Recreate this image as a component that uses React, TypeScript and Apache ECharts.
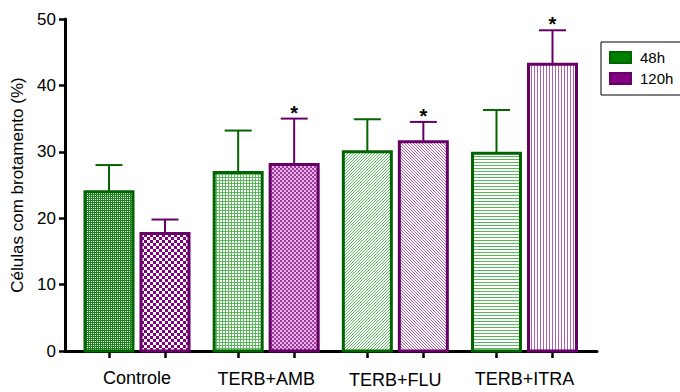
import React, { useEffect, useRef } from "react";
import * as echarts from "echarts";

const categories = ["Controle", "TERB+AMB", "TERB+FLU", "TERB+ITRA"];
const seriesNames = ["48h", "120h"];
const mean48 = [24.0, 26.9, 30.0, 29.8];
const err48 = [4.0, 6.3, 4.9, 6.5];
const sig48 = [0, 0, 0, 0];
const mean120 = [17.7, 28.1, 31.5, 43.2];
const err120 = [2.1, 6.9, 3.0, 5.1];
const sig120 = [0, 1, 1, 1];
const yTicks = [0, 10, 20, 30, 40, 50];

const FONT = '"Liberation Sans", Arial, sans-serif';
const GREEN_LINE = "#006400";
const PURPLE_LINE = "#660066";

function makeTile(rows: string[], colors: Record<string, string>) {
  const h = rows.length;
  const w = rows[0].length;
  const c = document.createElement("canvas");
  c.width = w;
  c.height = h;
  const ctx = c.getContext("2d")!;
  for (let y = 0; y < h; y++) {
    for (let x = 0; x < w; x++) {
      ctx.fillStyle = colors[rows[y][x]];
      ctx.fillRect(x, y, 1, 1);
    }
  }
  return { image: c, repeat: "repeat", imageWidth: w, imageHeight: h } as any;
}

function buildPatterns() {
  const g = "#1a861a";
  const lg = "#5cb85c";
  const p = "#800080";
  const lp = "#b060b0";
  const w = "#ffffff";
  const p48 = [
    makeTile(["gg", "gw"], { g, w }),
    makeTile(["ggg", "g..", "g.."], { g: lg, ".": w }),
    makeTile(["..g", ".g.", "g.."], { g: lg, ".": w }),
    makeTile(["ggg", "...", "..."], { g: lg, ".": w }),
  ];
  const p120 = [
    makeTile(
      ["pppwww", "pppwww", "pppwww", "wwwppp", "wwwppp", "wwwppp"],
      { p, w }
    ),
    makeTile(["ppqq", "ppqq", "qqpp", "qqpp"], { p: "#9a3a9a", q: "#eab4ea" }),
    makeTile(["p..", ".p.", "..p"], { p: lp, ".": w }),
    makeTile(["p..", "p..", "p.."], { p: lp, ".": w }),
  ];
  return [p48, p120];
}

function makeRender(offsetPx: number, patterns: any[], stroke: string) {
  return (params: any, api: any) => {
    const idx = params.dataIndex;
    const gx = api.value(0);
    const v = api.value(1);
    const e = api.value(2);
    const s = api.value(3);
    const base = api.coord([gx, 0]);
    const top = api.coord([gx, v]);
    const et = api.coord([gx, v + e]);
    const cx = base[0] + offsetPx;
    const children: any[] = [
      {
        type: "line",
        shape: { x1: cx, y1: top[1], x2: cx, y2: et[1] },
        style: { stroke, lineWidth: 2 },
      },
      {
        type: "line",
        shape: { x1: cx - 13.5, y1: et[1], x2: cx + 13.5, y2: et[1] },
        style: { stroke, lineWidth: 2 },
      },
      {
        type: "rect",
        shape: { x: cx - 24, y: top[1], width: 48, height: base[1] - top[1] },
        style: { fill: patterns[idx], stroke, lineWidth: 3 },
      },
    ];
    if (s) {
      children.push({
        type: "text",
        style: {
          text: "*",
          x: cx,
          y: et[1] - 6,
          align: "center",
          verticalAlign: "middle",
          font: `bold 20px ${FONT}`,
          fill: "#000",
        },
      });
    }
    return { type: "group", children };
  };
}

export default function App() {
  const ref = useRef<HTMLDivElement>(null);
  useEffect(() => {
    if (!ref.current) return;
    const chart = echarts.init(ref.current, undefined, { renderer: "svg" });
    const [pat48, pat120] = buildPatterns();
    const groupPos = categories.map((_, i) => i + 1);
    const barOffsetUnits = 28 / 129.17;
    const tickValues: number[] = [];
    groupPos.forEach((gp) => {
      tickValues.push(gp - barOffsetUnits, gp + barOffsetUnits);
    });
    const labelPads = [0, 2, 3, 2];
    const rich: any = {};
    labelPads.forEach((pd, i) => {
      rich["l" + i] = {
        fontSize: 18,
        lineHeight: 18,
        fontFamily: FONT,
        color: "#000",
        padding: [pd, 0, 0, 0],
      };
    });
    const option: any = {
      animation: false,
      backgroundColor: "#fff",
      grid: {
        left: 65,
        right: 83,
        top: 19,
        bottom: 41,
        containLabel: false,
        outerBoundsMode: "none",
      },
      legend: {
        orient: "vertical",
        left: 601,
        top: 42,
        padding: [8, 60, 9, 8],
        itemGap: 6,
        itemWidth: 21,
        itemHeight: 11,
        borderColor: "#000",
        borderWidth: 1,
        textStyle: { fontSize: 15, fontFamily: FONT, color: "#000", padding: [0, 0, 0, 4] },
        data: seriesNames.map((n) => ({ name: n, icon: "rect" })),
      },
      xAxis: {
        type: "value",
        min: 1 - 72 / 129.17,
        max: 4 + 72.5 / 129.17,
        splitLine: { show: false },
        axisLine: { show: true, lineStyle: { color: "#000", width: 3 } },
        axisTick: {
          show: true,
          customValues: tickValues,
          length: 7,
          lineStyle: { color: "#000", width: 2.5 },
        },
        axisLabel: {
          show: true,
          customValues: groupPos,
          margin: 18,
          fontSize: 18,
          fontFamily: FONT,
          color: "#000",
          formatter: (val: number) => {
            const i = Math.round(val) - 1;
            return `{l${i}|${categories[i]}}`;
          },
          rich,
        },
      },
      yAxis: {
        type: "value",
        min: yTicks[0],
        max: yTicks[yTicks.length - 1],
        interval: 10,
        name: "Células com brotamento (%)",
        nameLocation: "middle",
        nameGap: 38,
        nameRotate: 90,
        nameTextStyle: { fontSize: 17, fontFamily: FONT, color: "#000" },
        splitLine: { show: false },
        axisLine: { show: true, lineStyle: { color: "#000", width: 3 } },
        axisTick: { show: true, length: 6, lineStyle: { color: "#000", width: 2.5 } },
        axisLabel: { fontSize: 17, fontFamily: FONT, color: "#000", margin: 9 },
      },
      series: [
        {
          name: seriesNames[0],
          type: "custom",
          itemStyle: { color: "#008000", borderColor: GREEN_LINE, borderWidth: 2 },
          encode: { x: 0, y: 1 },
          renderItem: makeRender(-28, pat48, GREEN_LINE),
          data: mean48.map((v, i) => [groupPos[i], v, err48[i], sig48[i]]),
        },
        {
          name: seriesNames[1],
          type: "custom",
          itemStyle: { color: "#800080", borderColor: PURPLE_LINE, borderWidth: 2 },
          encode: { x: 0, y: 1 },
          renderItem: makeRender(28, pat120, PURPLE_LINE),
          data: mean120.map((v, i) => [groupPos[i], v, err120[i], sig120[i]]),
        },
      ],
    };
    chart.setOption(option);
    return () => chart.dispose();
  }, []);
  return (
    <div
      ref={ref}
      style={{ position: "fixed", left: 0, top: 0, width: 680, height: 392, background: "#fff" }}
    />
  );
}
